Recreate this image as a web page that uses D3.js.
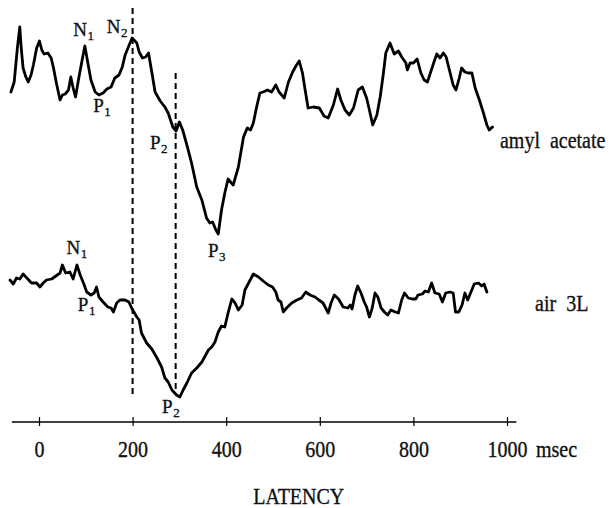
<!DOCTYPE html>
<html>
<head>
<meta charset="utf-8">
<script src="https://cdn.jsdelivr.net/npm/d3@7"></script>
<style>
  body { margin: 0; background: #fff; }
  svg { display: block; font-family: 'Liberation Serif', 'Times New Roman', serif; }
  text { fill: #111; stroke: #111; stroke-width: 0.3px; }
</style>
</head>
<body>
<svg id="chart" width="616" height="508"></svg>
<script>
// [latency ms, amplitude µV]  (negative plotted up)
const amylAcetate = [
  [-60, -0.8], [-53, -1.8], [-46, -5.3], [-41, -7.3], [-38, -5.2], [-34, -3.2], [-28, -2.3],
  [-23, -1.8], [-17, -2.5], [-12, -3.5], [-5, -5.2], [1, -5.9], [6, -5.0], [11, -4.6],
  [19, -4.7], [26, -4.2], [31, -3.2], [38, -1.5], [45, 0], [50, -0.5], [56, -0.6],
  [63, -1.0], [68, -2.3], [73, -1.2], [78, -0.3], [85, -2.2], [93, -4.2], [98, -5.4],
  [104, -3.8], [111, -2.0], [120, -0.8], [128, -0.5], [137, -0.7], [145, -1.1], [154, -1.3],
  [162, -2.2], [171, -2.5], [178, -3.3], [184, -4.5], [191, -5.3], [199, -6.2], [209, -5.7],
  [214, -4.8], [221, -4.2], [228, -4.3], [234, -4.7], [241, -2.8], [248, -0.8], [259, 0.1],
  [269, 0.7], [276, 1.3], [286, 2.7], [293, 3.1], [300, 2.2], [307, 3.0], [316, 4.5],
  [326, 6.3], [337, 8.7], [348, 10.0], [358, 11.8], [365, 12.3], [371, 12.2], [378, 13.0],
  [383, 13.4], [390, 11.0], [397, 9.3], [404, 7.9], [415, 8.5], [426, 6.7], [437, 3.7],
  [445, 2.8], [452, 3.0], [458, 2.3], [465, 0.7], [472, -0.7], [479, -0.8], [488, -1.0],
  [497, -0.8], [506, -1.5], [513, -0.8], [524, -0.2], [533, -1.8], [542, -2.8], [549, -3.4],
  [556, -3.9], [563, -2.7], [568, -1.2], [575, 0.8], [586, 0.7], [599, 0.8], [609, 1.6],
  [618, 1.8], [629, 0.5], [638, -1.1], [645, 0], [654, 1.0], [663, 1.5], [672, 0.8],
  [682, -1.0], [691, -1.3], [700, -0.2], [706, 1.0], [713, 2.5], [722, 1.5], [729, -0.3],
  [736, -2.7], [741, -4.7], [750, -5.7], [759, -4.6], [768, -4.9], [775, -4.3], [784, -3.7],
  [787, -3.0], [793, -3.7], [800, -3.7], [808, -4.1], [816, -2.7], [823, -2.0], [830, -1.8],
  [837, -2.8], [844, -3.8], [850, -4.6], [857, -4.2], [864, -4.7], [870, -4.3], [878, -2.8],
  [885, -1.5], [891, -1.0], [898, -2.2], [903, -3.2], [910, -2.8], [917, -2.7], [925, -2.7],
  [932, -1.2], [941, 0], [949, 1.2], [957, 2.5], [962, 3.0], [969, 2.7]
];

const air3L = [
  [-62, -1.0], [-55, -0.6], [-48, -1.2], [-41, -1.1], [-34, -1.6], [-26, -1.2], [-16, -0.7],
  [-5, -0.7], [2, -0.3], [9, -0.7], [16, -1.0], [27, -1.1], [36, -1.4], [45, -1.7],
  [50, -2.5], [57, -1.7], [66, -1.8], [73, -1.1], [81, -2.5], [88, -1.5], [95, -0.7],
  [102, 0.2], [111, 0.5], [118, 0.3], [123, -0.3], [128, 0.7], [137, 1.2], [147, 1.7],
  [154, 1.8], [159, 2.2], [166, 1.3], [173, 1.0], [184, 1.0], [192, 1.2], [199, 1.9],
  [209, 2.7], [214, 3.0], [219, 4.3], [230, 5.3], [241, 5.9], [251, 6.7], [262, 7.7],
  [269, 8.8], [276, 9.2], [284, 10.0], [294, 10.5], [301, 10.7], [308, 10.0], [316, 9.3],
  [326, 8.3], [337, 7.8], [348, 7.2], [355, 6.6], [362, 6.0], [369, 5.7], [376, 5.2],
  [383, 4.2], [390, 3.6], [397, 3.7], [404, 2.3], [412, 0.9], [419, 1.3], [426, 2.0],
  [434, 1.5], [440, 0], [449, -0.8], [458, -1.6], [469, -1.3], [479, -0.9], [490, -0.5],
  [499, -0.3], [506, 0.2], [511, 1.0], [517, 1.2], [522, 2.2], [529, 1.8], [540, 1.3],
  [551, 1.0], [561, 0.8], [570, 0.2], [579, 0.5], [590, 0.7], [598, 1.0], [607, 1.3],
  [618, 2.3], [624, 1.3], [631, 0.5], [640, 0.9], [650, 1.7], [660, 1.8], [665, 1.5],
  [669, 1.9], [675, 0.5], [681, -0.4], [688, 0.3], [695, 1.2], [700, 1.7], [706, 2.7],
  [712, 1.8], [718, 0.3], [724, 0.7], [731, 1.8], [738, 2.2], [745, 2.5], [752, 2.0],
  [761, 2.2], [768, 2.3], [775, 1.0], [781, 0.3], [789, 0.8], [798, 0.9], [805, 0.9],
  [810, 0.5], [819, 0.4], [825, 0.1], [832, 0.2], [839, -0.7], [846, 0.3], [855, 0.4],
  [862, 1.2], [869, 0.3], [878, 0.2], [885, 0.3], [890, 2.2], [897, 2.2], [904, 1.5],
  [910, 0.3], [916, 1.0], [923, 0.2], [930, -0.6], [939, -0.7], [946, -0.4], [951, -0.6],
  [957, 0.2]
];

// component labels: letter, subscript, latency, amplitude
const amylPeaks = [
  ['N', '1', 73, -6.4], ['N', '2', 145, -6.7], ['P', '1', 116, 1.2],
  ['P', '2', 237, 4.9], ['P', '3', 361, 15.7]
];
const airPeaks = [
  ['N', '1', 59, -3.6], ['P', '1', 83, 2.1], ['P', '2', 263, 12.3]
];

// dashed latency markers: time, start on amyl trace scale, end on air trace scale
const markerTimes = [200, 292];
const markerFrom = [-9.2, -2.7];
const markerTo = [10.7, 10.2];

const tickValues = [0, 200, 400, 600, 800, 1000];
const seriesNames = ['amyl  acetate', 'air  3L'];
const seriesLabelAt = [[985, 4.8], [1060, 2.1]];
const unitLabel = 'msec';
const axisTitle = 'LATENCY';

const svg = d3.select('#chart');

const x = d3.scaleLinear().domain([0, 1000]).range([39, 507]);
const yAmyl = d3.scaleLinear().domain([-10, 15]).range([0, 250]);
const yAir = d3.scaleLinear().domain([-10, 15]).range([190, 440]);

const stretch = 'scale(1,1.12)';

// dashed markers
markerTimes.forEach(function (t, i) {
  svg.append('line')
    .attr('x1', x(t)).attr('x2', x(t))
    .attr('y1', yAmyl(markerFrom[i]))
    .attr('y2', yAir(markerTo[i]))
    .attr('stroke', '#000')
    .attr('stroke-width', 2)
    .attr('stroke-dasharray', '6,4');
});

// traces
function trace (data, y) {
  const line = d3.line()
    .x(function (d) { return x(d[0]); })
    .y(function (d) { return y(d[1]); });
  svg.append('path')
    .datum(data)
    .attr('d', line)
    .attr('fill', 'none')
    .attr('stroke', '#000')
    .attr('stroke-width', 2.8)
    .attr('stroke-linejoin', 'round')
    .attr('stroke-linecap', 'round');
}
trace(amylAcetate, yAmyl);
trace(air3L, yAir);

// peak labels
function peakLabels (peaks, y) {
  const t = svg.append('g').selectAll('text')
    .data(peaks)
    .enter().append('text')
    .attr('x', function (d) { return x(d[2]); })
    .attr('y', function (d) { return y(d[3]); })
    .attr('font-size', 19);
  t.append('tspan').text(function (d) { return d[0]; });
  t.append('tspan')
    .attr('dx', 0.5)
    .attr('dy', 4)
    .attr('font-size', 13)
    .text(function (d) { return d[1]; });
}
peakLabels(amylPeaks, yAmyl);
peakLabels(airPeaks, yAir);

// series labels
[yAmyl, yAir].forEach(function (y, i) {
  svg.append('text')
    .attr('transform', 'translate(' + x(seriesLabelAt[i][0]) + ',' + y(seriesLabelAt[i][1]) + ') ' + stretch)
    .attr('font-size', 20)
    .style('white-space', 'pre')
    .text(seriesNames[i]);
});

// axis
const axisY = 422;
const gx = svg.append('g')
  .attr('transform', 'translate(0,' + axisY + ')')
  .call(d3.axisBottom(x)
    .tickValues(tickValues)
    .tickSizeInner(4)
    .tickSizeOuter(0)
    .tickFormat(function (d) { return d; }));
gx.select('.domain').remove();
gx.append('line')
  .attr('x1', x(-58)).attr('x2', x(1020))
  .attr('stroke', '#000')
  .attr('stroke-width', 1.5);
gx.selectAll('.tick line')
  .attr('y1', -5)
  .attr('stroke-width', 1.2);
gx.selectAll('.tick text')
  .attr('y', 0)
  .attr('dy', 0)
  .attr('transform', 'translate(0,35) ' + stretch)
  .attr('font-family', "'Liberation Serif', serif")
  .attr('font-size', 20)
  .attr('fill', '#111');

svg.append('text')
  .attr('transform', 'translate(' + (x(1000) + 29) + ',' + (axisY + 35) + ') ' + stretch)
  .attr('font-size', 20)
  .text(unitLabel);

svg.append('text')
  .attr('transform', 'translate(' + x(555) + ',504) ' + stretch)
  .attr('text-anchor', 'middle')
  .attr('font-size', 20)
  .text(axisTitle);
</script>
</body>
</html>
